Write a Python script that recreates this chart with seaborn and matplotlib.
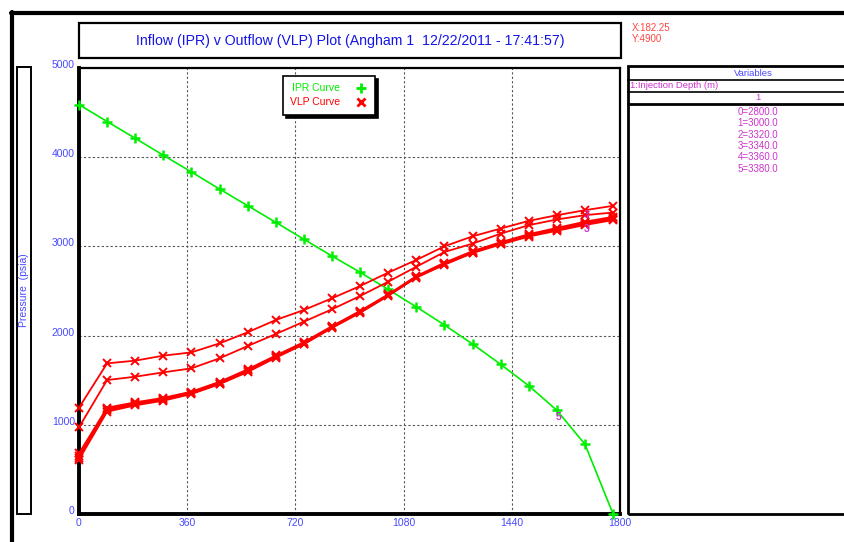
import matplotlib
matplotlib.use("Agg")
import matplotlib.pyplot as plt
import pandas as pd
import seaborn as sns
from matplotlib.lines import Line2D
from matplotlib.patches import Rectangle

# Rates (x axis) - same for IPR and all VLP curves
rates = [0, 93.5, 187.0, 280.6, 374.1, 467.6, 561.2, 654.7, 748.2, 841.7,
         935.3, 1028.8, 1122.3, 1215.8, 1309.4, 1402.9, 1496.4, 1590.0, 1683.5, 1777.0]

# IPR curve (psia)
ipr = [4590, 4400, 4212, 4022, 3834, 3643, 3456, 3270, 3080, 2892,
       2710, 2517, 2322, 2119, 1906, 1678, 1438, 1162, 781, 0]

# VLP curves, one per injection depth
depth_labels = ["0=2800.0", "1=3000.0", "2=3320.0", "3=3340.0", "4=3360.0", "5=3380.0"]
vlp_0 = [1192, 1689, 1719, 1775, 1812, 1913, 2037, 2175, 2287, 2418,
         2556, 2706, 2848, 3001, 3113, 3200, 3286, 3350, 3406, 3455]
vlp_1 = [972, 1502, 1539, 1588, 1633, 1745, 1883, 2018, 2156, 2295,
         2444, 2604, 2772, 2937, 3031, 3143, 3238, 3302, 3350, 3380]
vlp_2 = [680, 1192, 1252, 1302, 1372, 1482, 1622, 1777, 1927, 2106,
         2277, 2462, 2667, 2817, 2947, 3047, 3137, 3207, 3277, 3332]
vlp_3 = [652, 1176, 1240, 1291, 1362, 1471, 1611, 1768, 1918, 2098,
         2268, 2456, 2660, 2808, 2938, 3038, 3126, 3195, 3262, 3318]
vlp_4 = [630, 1161, 1229, 1281, 1352, 1462, 1601, 1760, 1910, 2092,
         2262, 2450, 2655, 2800, 2930, 3030, 3118, 3186, 3250, 3306]
vlp_5 = [610, 1147, 1218, 1270, 1345, 1455, 1592, 1752, 1902, 2085,
         2255, 2445, 2650, 2795, 2925, 3022, 3110, 3175, 3240, 3295]
vlp_curves = [vlp_0, vlp_1, vlp_2, vlp_3, vlp_4, vlp_5]

x_ticks = [0, 360, 720, 1080, 1440, 1800]
y_ticks = [0, 1000, 2000, 3000, 4000, 5000]

BLUE = "#4848ff"
GREEN = "#00ee00"
RED = "#ff0000"
MAGENTA = "#cc33cc"

sns.set_style("white")
plt.rcParams["font.family"] = ["Liberation Sans", "DejaVu Sans"]

W, H = 845, 542
fig = plt.figure(figsize=(W / 100, H / 100), dpi=100)


def fx(px):
    return px / W


def fy(py):
    return 1 - py / H


# Main plot area
ax = fig.add_axes([fx(79), fy(514), fx(620 - 79), (514 - 68) / H])

df_ipr = pd.DataFrame({"rate": rates, "pressure": ipr})
sns.lineplot(data=df_ipr, x="rate", y="pressure", ax=ax, color=GREEN, lw=1.2,
             marker="+", markersize=7, markeredgewidth=1.8, markeredgecolor=GREEN,
             sort=False, estimator=None, clip_on=False, zorder=3)

for vals in vlp_curves:
    df_v = pd.DataFrame({"rate": rates, "pressure": vals})
    sns.lineplot(data=df_v, x="rate", y="pressure", ax=ax, color=RED, lw=1.3,
                 marker="x", markersize=6, markeredgewidth=1.4, markeredgecolor=RED,
                 sort=False, estimator=None, clip_on=False, zorder=3)

ax.set_xlim(0, 1800)
ax.set_ylim(0, 5000)
ax.set_xticks(x_ticks)
ax.set_yticks(y_ticks)
ax.set_xlabel("")
ax.set_ylabel("")
ax.tick_params(length=0, labelsize=7.5, labelcolor=BLUE, pad=3)
for lab in ax.get_yticklabels():
    lab.set_verticalalignment("baseline")
ax.grid(True, color="#555555", linestyle=(0, (2, 2)), lw=0.8)
for side in ["left", "bottom"]:
    ax.spines[side].set_linewidth(2.8)
for side in ["top", "right"]:
    ax.spines[side].set_linewidth(1.6)
for s in ax.spines.values():
    s.set_color("black")
    s.set_zorder(2.5)

# curve index labels
ax.text(1690, 3350, "3", color=MAGENTA, fontsize=7.5, fontweight="bold", ha="center", va="center")
ax.text(1690, 3195, "3", color=MAGENTA, fontsize=7.5, fontweight="bold", ha="center", va="center")
ax.text(1595, 1090, "5", color=MAGENTA, fontsize=7.5, fontweight="bold", ha="center", va="center")

# legend
handles = [Line2D([], [], color=GREEN, marker="+", ls="none", markersize=7, markeredgewidth=2),
           Line2D([], [], color=RED, marker="x", ls="none", markersize=6, markeredgewidth=2)]
leg = ax.legend(handles, ["IPR Curve", "VLP Curve"], loc="upper left",
                bbox_to_anchor=((283 - 79) / 541, (514 - 76) / 446),
                markerfirst=False, frameon=True, fancybox=False, fontsize=7.5,
                labelcolor=[GREEN, RED], handlelength=1.2, handletextpad=1.4,
                borderpad=0.7, labelspacing=0.4, borderaxespad=0,
                shadow={"color": "black", "ox": 2, "oy": -2, "alpha": 1})
leg.get_frame().set_edgecolor("black")
leg.get_frame().set_linewidth(1.2)
leg.get_frame().set_alpha(1)
leg.set_zorder(5)

# outer frame
fig.add_artist(Line2D([fx(12), fx(12)], [0, fy(12)], color="black", lw=3))
fig.add_artist(Line2D([fx(11), 1], [fy(13), fy(13)], color="black", lw=3))

# title box
fig.add_artist(Rectangle((fx(79), fy(58)), fx(621 - 79), (58 - 23) / H,
                         fill=False, ec="black", lw=1.6))
fig.text(fx(350), fy(40.5), "Inflow (IPR) v Outflow (VLP) Plot (Angham 1  12/22/2011 - 17:41:57)",
         color="#1414e6", fontsize=10.2, ha="center", va="center")
fig.text(fx(632), fy(28), "X:182.25", color="#ff4444", fontsize=7, va="center")
fig.text(fx(632), fy(39), "Y:4900", color="#ff4444", fontsize=7, va="center")

# y-axis label box
fig.add_artist(Rectangle((fx(17), fy(514)), fx(14), (514 - 67) / H,
                         fill=False, ec="black", lw=1.4))
fig.text(fx(24), fy(290), "Pressure  (psia)", color=BLUE, fontsize=7.5,
         rotation=90, ha="center", va="center")

# variables panel
fig.add_artist(Rectangle((fx(628), fy(514)), fx(230), (514 - 66) / H,
                         fill=False, ec="black", lw=2))
fig.add_artist(Line2D([fx(628), 1], [fy(80), fy(80)], color="black", lw=1.2))
fig.add_artist(Line2D([fx(628), 1], [fy(92), fy(92)], color="black", lw=1.2))
fig.add_artist(Line2D([fx(628), 1], [fy(103.5), fy(103.5)], color="black", lw=2))
fig.text(fx(753), fy(73.5), "Variables", color=BLUE, fontsize=6.8, ha="center", va="center")
fig.text(fx(630), fy(86), "1:Injection Depth (m)", color=MAGENTA, fontsize=6.8, va="center")
fig.text(fx(758), fy(97.5), "1", color=MAGENTA, fontsize=6.8, ha="center", va="center")
for i, lab in enumerate(depth_labels):
    fig.text(fx(758), fy(112 + i * 11.3), lab, color=MAGENTA, fontsize=7,
             ha="center", va="center")

plt.savefig("out.png", dpi=100)
